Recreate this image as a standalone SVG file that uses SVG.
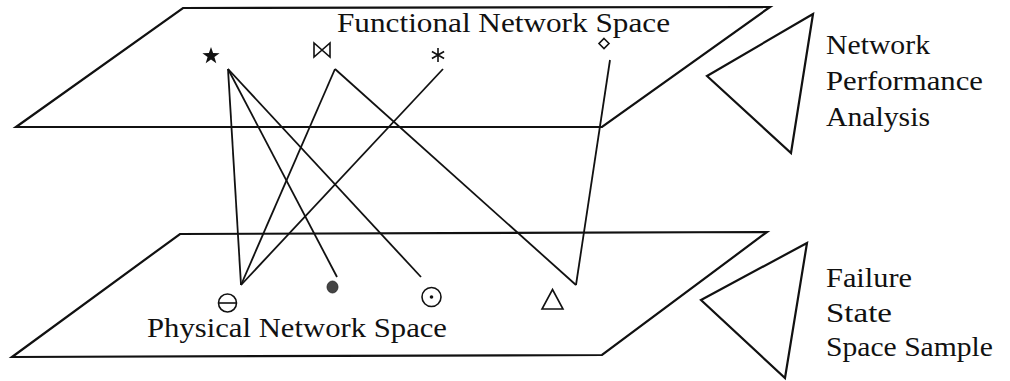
<svg xmlns="http://www.w3.org/2000/svg" width="1010" height="381" viewBox="0 0 1010 381">
<style>
.edge{fill:none;stroke:#111;stroke-width:2.2;stroke-linejoin:miter}
.conn{fill:none;stroke:#111;stroke-width:1.8}
.sym{fill:none;stroke:#111;stroke-width:1.6}
.lbl{font-family:'Liberation Serif','DejaVu Serif',serif;font-size:28px;fill:#111}
</style>
<rect width="1010" height="381" fill="#fff"/>
<g id="functional-plane">
<polygon class="edge" points="183,8 770,7 602,127 16,127"/>
<text class="lbl" font-family="Liberation Serif, serif" x="337" y="32" textLength="333" lengthAdjust="spacingAndGlyphs">Functional Network Space</text>
</g>
<g id="physical-plane">
<polygon class="edge" points="180,234 767,232 602,355 12,357"/>
<text class="lbl" font-family="Liberation Serif, serif" x="147" y="337" textLength="300" lengthAdjust="spacingAndGlyphs">Physical Network Space</text>
</g>
<g id="connectors">
<line class="conn" x1="228" y1="69" x2="241" y2="285"/>
<line class="conn" x1="228" y1="69" x2="337" y2="277"/>
<line class="conn" x1="228" y1="69" x2="421" y2="277"/>
<line class="conn" x1="335" y1="69" x2="241" y2="285"/>
<line class="conn" x1="335" y1="69" x2="576" y2="285"/>
<line class="conn" x1="443" y1="69" x2="241" y2="285"/>
<line class="conn" x1="610" y1="60" x2="576" y2="285"/>
</g>
<g id="node-star">
<polygon fill="#111" points="211,47 213.1,53.1 219.6,53.2 214.4,57.1 216.3,63.3 211,59.6 205.7,63.3 207.6,57.1 202.4,53.2 208.9,53.1"/>
</g>
<g id="node-bowtie">
<path class="sym" d="M314,43 L314,57 L330,43 L330,57 Z"/>
</g>
<g id="node-asterisk">
<path class="sym" d="M438,48 L438,62 M431.9,51.5 L444.1,58.5 M431.9,58.5 L444.1,51.5"/>
</g>
<g id="node-diamond">
<polygon class="sym" points="604,38.5 609,43.5 604,48.5 599,43.5"/>
</g>
<g id="node-ominus">
<circle class="sym" cx="227.5" cy="303" r="9"/>
<line class="sym" x1="218.5" y1="303" x2="236.5" y2="303"/>
</g>
<g id="node-bullet">
<ellipse cx="332.5" cy="287" rx="5.5" ry="6" fill="#444" stroke="#222" stroke-width="0.8"/>
</g>
<g id="node-odot">
<circle class="sym" cx="431.5" cy="297" r="9.5"/>
<circle cx="431.5" cy="297" r="1.8" fill="#111"/>
</g>
<g id="node-triangle">
<polygon class="sym" points="552.5,289.5 563,309 542,309"/>
</g>
<g id="network-performance-analysis">
<polygon class="edge" points="813,14 707,76 791,153"/>
<text class="lbl" font-family="Liberation Serif, serif" x="826" y="54" textLength="104" lengthAdjust="spacingAndGlyphs">Network</text>
<text class="lbl" font-family="Liberation Serif, serif" x="826" y="90" textLength="157" lengthAdjust="spacingAndGlyphs">Performance</text>
<text class="lbl" font-family="Liberation Serif, serif" x="826" y="126" textLength="104" lengthAdjust="spacingAndGlyphs">Analysis</text>
</g>
<g id="failure-state-space-sample">
<polygon class="edge" points="807,243 701,300 785,378"/>
<text class="lbl" font-family="Liberation Serif, serif" x="826" y="287" textLength="86" lengthAdjust="spacingAndGlyphs">Failure</text>
<text class="lbl" font-family="Liberation Serif, serif" x="826" y="322" textLength="66" lengthAdjust="spacingAndGlyphs">State</text>
<text class="lbl" font-family="Liberation Serif, serif" x="826" y="356" textLength="167" lengthAdjust="spacingAndGlyphs">Space Sample</text>
</g>
</svg>
